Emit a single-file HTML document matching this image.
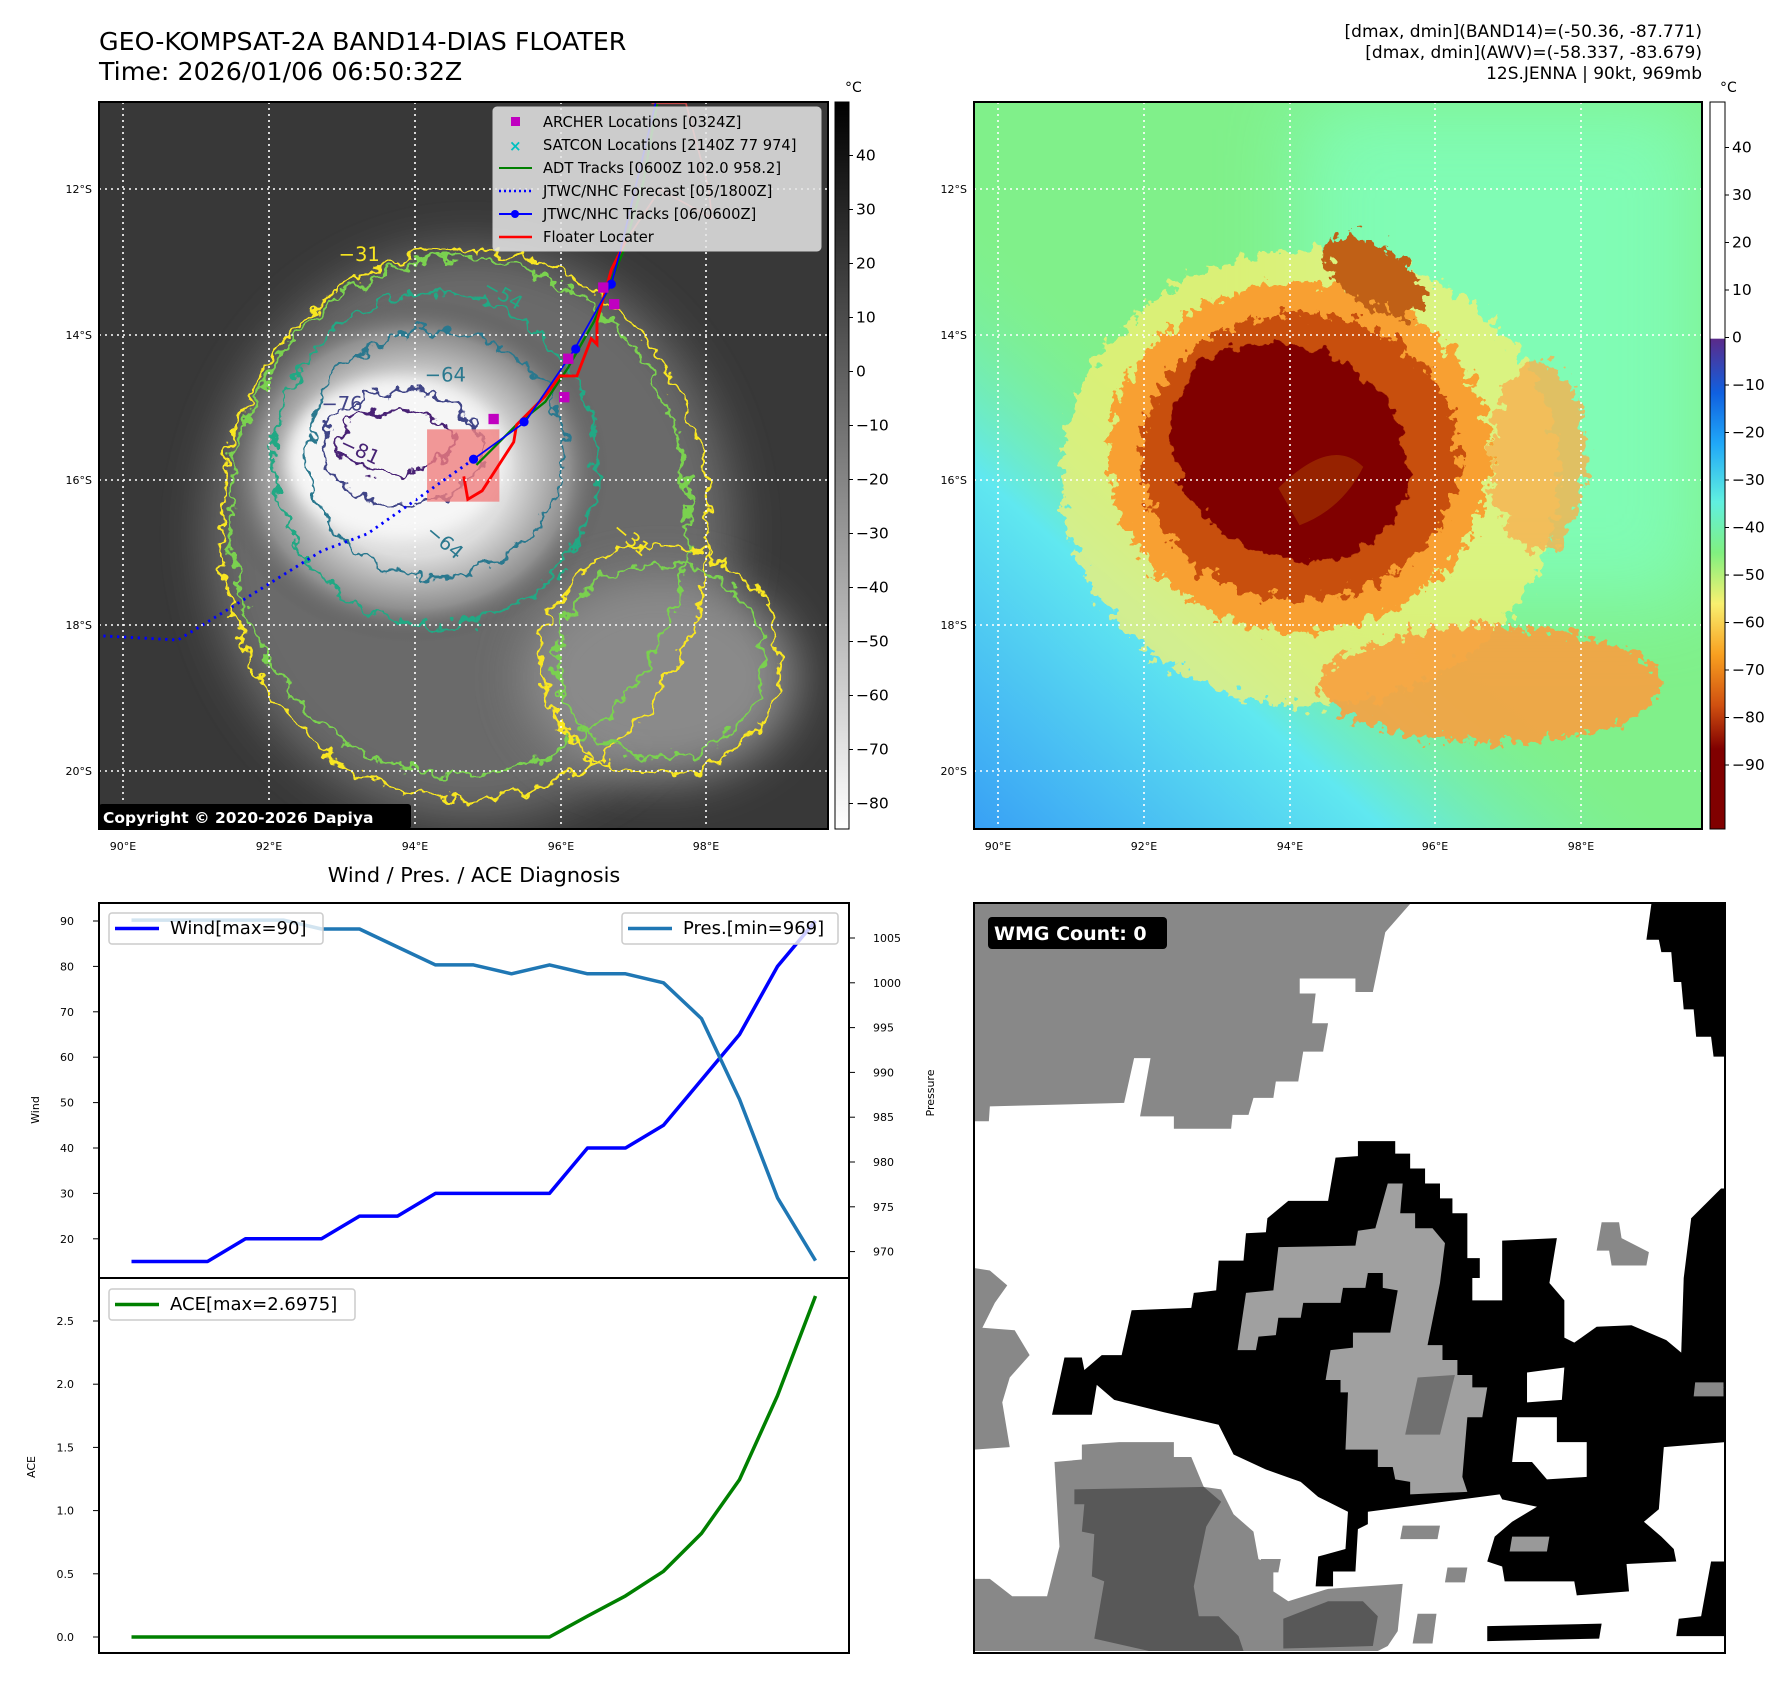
<!DOCTYPE html>
<html><head><meta charset="utf-8">
<style>
html,body{margin:0;padding:0;background:#fff;}
svg{display:block;font-family:"DejaVu Sans","Liberation Sans",sans-serif;}
</style></head>
<body>
<svg id="root" width="1792" height="1690" viewBox="0 0 1792 1690" xmlns="http://www.w3.org/2000/svg">
<defs>
  <filter id="wig" x="-30%" y="-30%" width="160%" height="160%">
    <feTurbulence type="fractalNoise" baseFrequency="0.035" numOctaves="3" seed="3" result="n"/>
    <feDisplacementMap in="SourceGraphic" in2="n" scale="45" xChannelSelector="R" yChannelSelector="G"/>
  </filter>
  <filter id="wig2" x="-30%" y="-30%" width="160%" height="160%">
    <feTurbulence type="fractalNoise" baseFrequency="0.05" numOctaves="3" seed="7" result="n"/>
    <feDisplacementMap in="SourceGraphic" in2="n" scale="60" xChannelSelector="R" yChannelSelector="G"/>
  </filter>
  <filter id="blur8" x="-50%" y="-50%" width="200%" height="200%"><feGaussianBlur stdDeviation="14"/></filter>
  <filter id="blur30" x="-80%" y="-80%" width="260%" height="260%"><feGaussianBlur stdDeviation="40"/></filter>
  <linearGradient id="cbGray" x1="0" y1="0" x2="0" y2="1">
    <stop offset="0" stop-color="#000"/><stop offset="1" stop-color="#fff"/>
  </linearGradient>
  <linearGradient id="cbColor" x1="0" y1="0" x2="0" y2="1">
    <stop offset="0" stop-color="#fff"/><stop offset="0.325" stop-color="#fff"/>
    <stop offset="0.326" stop-color="#5a2a8a"/>
    <stop offset="0.40" stop-color="#1060e0"/>
    <stop offset="0.47" stop-color="#20a8f8"/>
    <stop offset="0.55" stop-color="#60f0e0"/>
    <stop offset="0.62" stop-color="#80f080"/>
    <stop offset="0.69" stop-color="#f8f070"/>
    <stop offset="0.76" stop-color="#f8a020"/>
    <stop offset="0.83" stop-color="#d05010"/>
    <stop offset="0.89" stop-color="#800000"/>
    <stop offset="1" stop-color="#800000"/>
  </linearGradient>
  <linearGradient id="bgBlue" x1="0" y1="1" x2="0.7" y2="0.2">
    <stop offset="0" stop-color="#38a0f5"/><stop offset="0.35" stop-color="#60e8f0"/><stop offset="0.6" stop-color="#80f090" stop-opacity="0"/>
  </linearGradient>
  <radialGradient id="grayCloud" cx="0.5" cy="0.5" r="0.5">
    <stop offset="0" stop-color="#f4f4f4"/><stop offset="0.5" stop-color="#dcdcdc"/><stop offset="0.8" stop-color="#909090"/><stop offset="1" stop-color="#555" stop-opacity="0"/>
  </radialGradient>
  <clipPath id="clipL"><rect x="99" y="102" width="729" height="727"/></clipPath>
  <clipPath id="clipR"><rect x="974" y="102" width="728" height="727"/></clipPath>
  <clipPath id="clipW"><rect x="974" y="903" width="751" height="750"/></clipPath>
</defs>

<!-- ============ TOP-LEFT: grayscale IR map ============ -->
<text x="99" y="50" font-size="25.3" fill="#000">GEO-KOMPSAT-2A BAND14-DIAS FLOATER</text>
<text x="99" y="80" font-size="25.3" fill="#000">Time: 2026/01/06 06:50:32Z</text>

<g clip-path="url(#clipL)">
  <rect x="99" y="102" width="729" height="727" fill="#383838"/>
  <g transform="scale(0.574)">
    <ellipse cx="820" cy="930" rx="460" ry="500" fill="#6a6a6a" filter="url(#blur30)"/>
    <ellipse cx="1150" cy="1180" rx="240" ry="180" fill="#8a8a8a" filter="url(#blur30)"/>
    <ellipse cx="720" cy="820" rx="340" ry="300" fill="url(#grayCloud)"/>
    <ellipse cx="690" cy="800" rx="190" ry="140" fill="#f6f6f6" filter="url(#blur8)"/>
    <g fill="none" stroke-width="5" filter="url(#wig)">
      <ellipse cx="810" cy="915" rx="425" ry="480" stroke="#f8e620"/>
      <ellipse cx="800" cy="900" rx="400" ry="450" stroke="#7ad150"/>
      <ellipse cx="1150" cy="1150" rx="180" ry="170" stroke="#7ad150"/>
      <ellipse cx="1150" cy="1150" rx="210" ry="200" stroke="#f8e620"/>
      <ellipse cx="760" cy="800" rx="280" ry="290" stroke="#22a884"/>
      <ellipse cx="760" cy="790" rx="225" ry="215" stroke="#2a788e"/>
      <ellipse cx="700" cy="780" rx="140" ry="100" stroke="#414487"/>
      <ellipse cx="690" cy="770" rx="100" ry="55" stroke="#482475"/>
    </g>
    <g font-size="34">
      <text x="560" y="715" fill="#414487">−76</text>
      <text x="740" y="665" fill="#2a788e">−64</text>
      <text x="590" y="780" fill="#482475" transform="rotate(25 590 780)">−81</text>
      <text x="840" y="505" fill="#22a884" transform="rotate(30 840 505)">−54</text>
      <text x="590" y="455" fill="#f8e620">−31</text>
      <text x="1065" y="925" fill="#f8e620" transform="rotate(40 1065 925)">−31</text>
      <text x="740" y="930" fill="#2a788e" transform="rotate(40 740 930)">−64</text>
    </g>
    <rect x="744" y="748" width="126" height="126" fill="#f08080" fill-opacity="0.8"/>
    <polyline points="825,800 740,860 640,930 560,960 480,1010 400,1060 310,1115 180,1108" fill="none" stroke="#0000ff" stroke-width="5" stroke-dasharray="4,8"/>
    <polyline points="1145,180 1120,320 1085,440 1060,500 1035,560 990,640 950,700 900,740 830,810" fill="none" stroke="#008000" stroke-width="4"/>
    <polyline points="1135,180 1195,180 1235,330 1240,380 1150,330 1090,420" fill="none" stroke="#ff5050" stroke-width="3" opacity="0.7"/>
    <polyline points="1090,420 1065,470 1040,560 1040,600 1030,590 1005,655 975,655 950,690 900,740 895,770 840,855 815,870 808,830" fill="none" stroke="#ff0000" stroke-width="5"/>
    <polyline points="1142,180 1080,440 1065,495 1000,610 915,735 825,800" fill="none" stroke="#0000ff" stroke-width="3"/>
    <g fill="#0000ff"><circle cx="1003" cy="608" r="8"/><circle cx="913" cy="735" r="8"/><circle cx="825" cy="800" r="8"/><circle cx="1065" cy="495" r="8"/></g>
    <g fill="#c000c0">
      <rect x="1042" y="492" width="18" height="18"/><rect x="1061" y="521" width="18" height="18"/>
      <rect x="981" y="616" width="18" height="18"/><rect x="974" y="683" width="18" height="18"/>
      <rect x="851" y="721" width="18" height="18"/>
    </g>
  </g>
  <g stroke="#fff" stroke-width="1.6" stroke-dasharray="2,4">
    <line x1="123" y1="102" x2="123" y2="829"/><line x1="269" y1="102" x2="269" y2="829"/>
    <line x1="415" y1="102" x2="415" y2="829"/><line x1="561" y1="102" x2="561" y2="829"/>
    <line x1="706" y1="102" x2="706" y2="829"/>
    <line x1="99" y1="189" x2="828" y2="189"/><line x1="99" y1="335" x2="828" y2="335"/>
    <line x1="99" y1="480" x2="828" y2="480"/><line x1="99" y1="625" x2="828" y2="625"/>
    <line x1="99" y1="771" x2="828" y2="771"/>
  </g>
  <g>
    <rect x="493" y="107" width="328" height="144" rx="4" fill="#e6e6e6" fill-opacity="0.85" stroke="#ccc"/>
    <g font-size="14.7" fill="#000">
      <rect x="511" y="117" width="9" height="9" fill="#c000c0"/><text x="543" y="127">ARCHER Locations [0324Z]</text>
      <text x="509" y="151" fill="#00c0c0" font-size="15" font-weight="bold">×</text><text x="543" y="150">SATCON Locations [2140Z 77 974]</text>
      <line x1="499" y1="168" x2="532" y2="168" stroke="#008000" stroke-width="2"/><text x="543" y="173">ADT Tracks [0600Z 102.0 958.2]</text>
      <line x1="499" y1="191" x2="532" y2="191" stroke="#0000ff" stroke-width="2.5" stroke-dasharray="2,3"/><text x="543" y="196">JTWC/NHC Forecast [05/1800Z]</text>
      <line x1="499" y1="214" x2="532" y2="214" stroke="#0000ff" stroke-width="2"/><circle cx="515" cy="214" r="4" fill="#0000ff"/><text x="543" y="219">JTWC/NHC Tracks [06/0600Z]</text>
      <line x1="499" y1="237" x2="532" y2="237" stroke="#ff0000" stroke-width="2.5"/><text x="543" y="242">Floater Locater</text>
    </g>
  </g>
  <rect x="99" y="804" width="312" height="25" rx="3" fill="#000"/>
  <text x="103" y="823" font-size="15.5" font-weight="bold" fill="#fff">Copyright © 2020-2026 Dapiya</text>
</g>
<rect x="99" y="102" width="729" height="727" fill="none" stroke="#000" stroke-width="2"/>
<g font-size="11" fill="#000" text-anchor="end">
  <text x="92" y="193">12°S</text><text x="92" y="339">14°S</text><text x="92" y="484">16°S</text><text x="92" y="629">18°S</text><text x="92" y="775">20°S</text>
</g>
<g font-size="11" fill="#000" text-anchor="middle">
  <text x="123" y="850">90°E</text><text x="269" y="850">92°E</text><text x="415" y="850">94°E</text><text x="561" y="850">96°E</text><text x="706" y="850">98°E</text>
</g>
<rect x="835" y="102" width="14" height="727" fill="url(#cbGray)" stroke="#000" stroke-width="1"/>
<text x="845" y="92" font-size="14">°C</text>
<g id="cbL" font-size="15.5"></g>

<!-- ============ TOP-RIGHT: colour IR map ============ -->
<g font-size="17" text-anchor="end" fill="#000">
  <text x="1702" y="37">[dmax, dmin](BAND14)=(-50.36, -87.771)</text>
  <text x="1702" y="58">[dmax, dmin](AWV)=(-58.337, -83.679)</text>
  <text x="1702" y="79">12S.JENNA | 90kt, 969mb</text>
</g>
<g clip-path="url(#clipR)">
  <rect x="974" y="102" width="728" height="727" fill="#80f08a"/>
  <rect x="1300" y="102" width="402" height="500" fill="#80ffc0" filter="url(#blur30)" opacity="0.8"/>
  <rect x="974" y="102" width="728" height="727" fill="url(#bgBlue)"/>
  <g transform="translate(960,0) scale(0.5306)">
    <g filter="url(#wig2)">
      <ellipse cx="660" cy="900" rx="470" ry="430" fill="#f8f070" opacity="0.75"/>
      <ellipse cx="1000" cy="1290" rx="320" ry="110" fill="#f8a040" opacity="0.9"/>
      <ellipse cx="1090" cy="860" rx="90" ry="180" fill="#f8b050" opacity="0.8"/>
      <ellipse cx="640" cy="860" rx="360" ry="330" fill="#f8a030"/>
      <ellipse cx="780" cy="520" rx="110" ry="55" fill="#c06018" transform="rotate(35 780 520)"/>
      <ellipse cx="640" cy="860" rx="300" ry="270" fill="#c85010"/>
    </g>
    <ellipse cx="620" cy="850" rx="235" ry="195" fill="#800000" transform="rotate(30 620 850)" filter="url(#wig)"/>
    <path d="M 600 920 Q 700 820 760 880 Q 720 960 640 990 Z" fill="#a03000" opacity="0.7"/>
  </g>
  <g stroke="#fff" stroke-width="1.6" stroke-dasharray="2,4">
    <line x1="998" y1="102" x2="998" y2="829"/><line x1="1144" y1="102" x2="1144" y2="829"/>
    <line x1="1290" y1="102" x2="1290" y2="829"/><line x1="1435" y1="102" x2="1435" y2="829"/>
    <line x1="1581" y1="102" x2="1581" y2="829"/>
    <line x1="974" y1="189" x2="1702" y2="189"/><line x1="974" y1="335" x2="1702" y2="335"/>
    <line x1="974" y1="480" x2="1702" y2="480"/><line x1="974" y1="625" x2="1702" y2="625"/>
    <line x1="974" y1="771" x2="1702" y2="771"/>
  </g>
</g>
<rect x="974" y="102" width="728" height="727" fill="none" stroke="#000" stroke-width="2"/>
<g font-size="11" fill="#000" text-anchor="end">
  <text x="967" y="193">12°S</text><text x="967" y="339">14°S</text><text x="967" y="484">16°S</text><text x="967" y="629">18°S</text><text x="967" y="775">20°S</text>
</g>
<g font-size="11" fill="#000" text-anchor="middle">
  <text x="998" y="850">90°E</text><text x="1144" y="850">92°E</text><text x="1290" y="850">94°E</text><text x="1435" y="850">96°E</text><text x="1581" y="850">98°E</text>
</g>
<rect x="1710" y="102" width="15" height="727" fill="url(#cbColor)" stroke="#000" stroke-width="1"/>
<text x="1720" y="92" font-size="14">°C</text>
<g id="cbR" font-size="15.5"></g>

<!-- ============ BOTTOM-LEFT: chart ============ -->
<text x="474" y="882" font-size="20.8" text-anchor="middle">Wind / Pres. / ACE Diagnosis</text>
<g id="chart"></g>

<!-- ============ BOTTOM-RIGHT: WMG ============ -->
<g clip-path="url(#clipW)">
  <rect x="974" y="903" width="751" height="750" fill="#fff"/>
  <g transform="translate(960,890) scale(0.4974)">
    <polygon fill="#888" points="28,28 905,28 855,85 830,205 795,205 795,178 683,178 683,208 715,208 708,268 740,268 730,325 690,325 680,385 635,385 630,418 590,418 580,452 548,452 545,480 430,480 430,455 362,455 383,338 350,338 330,428 60,435 58,465 28,465"/>
    <polygon fill="#000" points="1390,28 1538,28 1538,335 1515,335 1510,295 1480,295 1475,240 1455,240 1450,185 1435,185 1430,125 1410,125 1405,100 1380,100"/>
    <polygon fill="#000" points="1530,600 1538,600 1538,1000 1475,1000 1450,930 1455,780 1470,660"/>
    <polygon fill="#000" points="800,505 875,505 875,530 905,530 905,560 935,560 935,590 965,590 965,620 990,620 990,650 1020,650 1020,740 1045,740 1045,780 1030,780 1030,825 1090,825 1090,705 1200,700 1185,790 1215,825 1215,900 1235,910 1280,878 1350,875 1420,905 1450,930 1480,940 1480,1000 1538,1000 1538,1110 1415,1120 1405,1245 1375,1270 1410,1300 1435,1325 1440,1350 1340,1355 1345,1410 1240,1418 1235,1390 1095,1390 1090,1360 1060,1350 1075,1300 1110,1270 1160,1240 1090,1225 1085,1215 820,1250 820,1275 800,1285 795,1370 750,1370 750,1400 715,1400 720,1340 775,1325 780,1250 720,1220 685,1190 615,1165 550,1135 520,1075 410,1050 310,1025 275,995 265,1055 185,1055 210,940 245,940 250,965 285,935 325,935 345,845 465,840 470,810 515,805 520,745 570,745 575,690 615,688 618,660 660,625 740,625 755,538 800,535"/>
    <polygon fill="#fff" points="1120,1060 1200,1060 1200,1110 1260,1110 1260,1180 1180,1185 1150,1150 1110,1150"/>
    <polygon fill="#fff" points="1140,970 1215,960 1210,1025 1140,1030"/>
    <polygon fill="#a0a0a0" points="860,590 890,590 885,650 915,650 915,680 950,680 975,710 965,790 940,915 970,915 970,945 1000,945 1000,975 1030,975 1030,1000 1060,1000 1050,1060 1020,1060 1010,1180 1020,1210 905,1215 905,1190 875,1185 870,1160 840,1160 840,1125 775,1125 780,1010 765,1010 765,985 735,985 745,925 790,920 790,890 865,890 880,805 850,800 850,770 820,770 815,800 770,800 765,830 690,830 685,860 640,860 635,895 600,898 595,925 558,925 575,810 630,805 640,718 795,715 800,685 835,680"/>
    <polygon fill="#707070" points="920,980 995,975 965,1095 895,1095"/>
    <polygon fill="#888" points="28,1385 60,1385 105,1420 175,1420 200,1320 190,1150 245,1145 245,1115 320,1110 430,1110 430,1140 465,1140 490,1200 525,1205 550,1255 590,1290 600,1345 630,1360 630,1410 660,1430 740,1405 890,1395 880,1490 860,1520 840,1530 28,1530"/>
    <polygon fill="#585858" points="230,1205 490,1200 525,1230 495,1280 470,1400 480,1460 520,1460 560,1500 570,1530 380,1530 270,1505 290,1390 265,1380 270,1295 245,1290 250,1235 230,1235"/>
    <polygon fill="#585858" points="650,1465 740,1430 810,1430 840,1460 830,1520 650,1525"/>
    <polygon fill="#888" points="28,760 60,765 95,795 70,830 45,880 110,885 140,935 100,980 85,1030 100,1120 28,1125"/>
    <polygon fill="#888" points="1290,668 1325,668 1330,700 1385,728 1380,755 1310,755 1305,725 1280,725"/>
    <polygon fill="#888" points="1478,990 1535,990 1535,1018 1475,1018"/>
    <polygon fill="#888" points="890,1278 965,1278 960,1305 885,1305"/>
    <polygon fill="#999" points="1110,1300 1185,1300 1180,1330 1105,1330"/>
    <polygon fill="#888" points="605,1345 645,1345 640,1372 600,1372"/>
    <polygon fill="#888" points="980,1362 1020,1362 1015,1392 975,1392"/>
    <polygon fill="#888" points="920,1455 958,1455 950,1515 910,1515"/>
    <polygon fill="#000" points="1060,1480 1290,1475 1285,1505 1060,1510"/>
    <polygon fill="#000" points="1510,1350 1538,1350 1538,1500 1440,1500 1445,1465 1490,1460"/>
  </g>
  <rect x="988" y="917" width="179" height="32" rx="4" fill="#000"/>
  <text x="994" y="940" font-size="19" font-weight="bold" fill="#fff">WMG Count: 0</text>
</g>
<rect x="974" y="903" width="751" height="750" fill="none" stroke="#000" stroke-width="2"/>

<script>
// ---------- chart data ----------
const steps = [0,1,2,3,4,5,6,7,8,9,10,11,12,13,14,15,16,17,18];
const windValues = [15,15,15,20,20,20,25,25,30,30,30,30,40,40,45,55,65,80,90];
const presValues = [1007,1007,1007,1007,1007,1006,1006,1004,1002,1002,1001,1002,1001,1001,1000,996,987,976,969];
const aceValues = [0,0,0,0,0,0,0,0,0,0,0,0,0.165,0.325,0.52,0.82,1.245,1.91,2.6975];
const windTicks = [20,30,40,50,60,70,80,90];
const presTicks = [970,975,980,985,990,995,1000,1005];
const aceTicks = [0.0,0.5,1.0,1.5,2.0,2.5];
const grayTicks = [40,30,20,10,0,-10,-20,-30,-40,-50,-60,-70,-80];
const colorTicks = [40,30,20,10,0,-10,-20,-30,-40,-50,-60,-70,-80,-90];

const NS = "http://www.w3.org/2000/svg";
function mk(parent, tag, attrs, txt){
  const e = document.createElementNS(NS, tag);
  for (const k in attrs) e.setAttribute(k, attrs[k]);
  if (txt !== undefined) e.textContent = txt;
  parent.appendChild(e); return e;
}
const xS = i => 131.5 + i * 38.0;
const yWind = v => 921 + (90 - v) * 4.54;
const yPres = v => 938 + (1005 - v) * 8.96;
const yAce = v => 1637 - v * 126.4;

const cbL = document.getElementById('cbL');
grayTicks.forEach(t => {
  const y = 155.5 + (40 - t) * 5.40;
  const tk = mk(cbL, 'line', {x1:849, y1:y, x2:853, y2:y, stroke:'#000'});
  
  
  const lb = mk(cbL, 'text', {x:856, y:y+5}, (t<0?'−':'')+Math.abs(t));
  
  
});
const cbR = document.getElementById('cbR');
colorTicks.forEach(t => {
  const y = 147.5 + (40 - t) * 4.75;
  const tk = mk(cbR, 'line', {x1:1725, y1:y, x2:1729, y2:y, stroke:'#000'});
  
  
  const lb = mk(cbR, 'text', {x:1732, y:y+5}, (t<0?'−':'')+Math.abs(t));
  
  
});

const g = document.getElementById('chart');
const f1 = mk(g, 'rect', {x:99, y:903, width:750, height:375, fill:'none', stroke:'#000', 'stroke-width':2});


const f2 = mk(g, 'rect', {x:99, y:1278, width:750, height:375, fill:'none', stroke:'#000', 'stroke-width':2});



windTicks.forEach(t => {
  const y = yWind(t);
  mk(g, 'line', {x1:93, y1:y, x2:99, y2:y, stroke:'#000'});
  const lb = mk(g, 'text', {x:74, y:y+4, 'font-size':11, 'text-anchor':'end'}, t);
  
  
});
presTicks.forEach(t => {
  const y = yPres(t);
  mk(g, 'line', {x1:849, y1:y, x2:855, y2:y, stroke:'#000'});
  const lb = mk(g, 'text', {x:873, y:y+4, 'font-size':11}, t);
  
  
});
aceTicks.forEach(t => {
  const y = yAce(t);
  mk(g, 'line', {x1:93, y1:y, x2:99, y2:y, stroke:'#000'});
  const lb = mk(g, 'text', {x:74, y:y+4, 'font-size':11, 'text-anchor':'end'}, t.toFixed(1));
  
  
});
const wl = mk(g, 'text', {x:0, y:0, 'font-size':11, transform:'translate(39,1110) rotate(-90)', 'text-anchor':'middle'}, 'Wind');


const pl = mk(g, 'text', {x:0, y:0, 'font-size':11, transform:'translate(934,1093) rotate(-90)', 'text-anchor':'middle'}, 'Pressure');


const al = mk(g, 'text', {x:0, y:0, 'font-size':11, transform:'translate(35,1467) rotate(-90)', 'text-anchor':'middle'}, 'ACE');



function line(vals, yf, color, name){
  const pts = vals.map((v,i) => xS(steps[i]).toFixed(1)+','+yf(v).toFixed(1)).join(' ');
  const p = mk(g, 'polyline', {points:pts, fill:'none', stroke:color, 'stroke-width':3.5, 'stroke-linejoin':'round'});
  
  
}
line(windValues, yWind, '#0000ff', 'wind-line');
line(presValues, yPres, '#1f77b4', 'pressure-line');
line(aceValues, yAce, '#008000', 'ace-line');

function legend(x, y, w, color, label, name){
  const grp = mk(g, 'g', {});
  
  
  mk(grp, 'rect', {x:x, y:y, width:w, height:31, rx:3, fill:'#fff', 'fill-opacity':0.8, stroke:'#ccc', 'stroke-width':1.5});
  mk(grp, 'line', {x1:x+6, y1:y+15.5, x2:x+50, y2:y+15.5, stroke:color, 'stroke-width':3.5});
  mk(grp, 'text', {x:x+61, y:y+21, 'font-size':18}, label);
}
legend(109, 913, 214, '#0000ff', 'Wind[max=90]', 'wind-legend');
legend(622, 913, 216, '#1f77b4', 'Pres.[min=969]', 'pressure-legend');
legend(109, 1289, 246, '#008000', 'ACE[max=2.6975]', 'ace-legend');
</script>
</svg>
</body></html>
